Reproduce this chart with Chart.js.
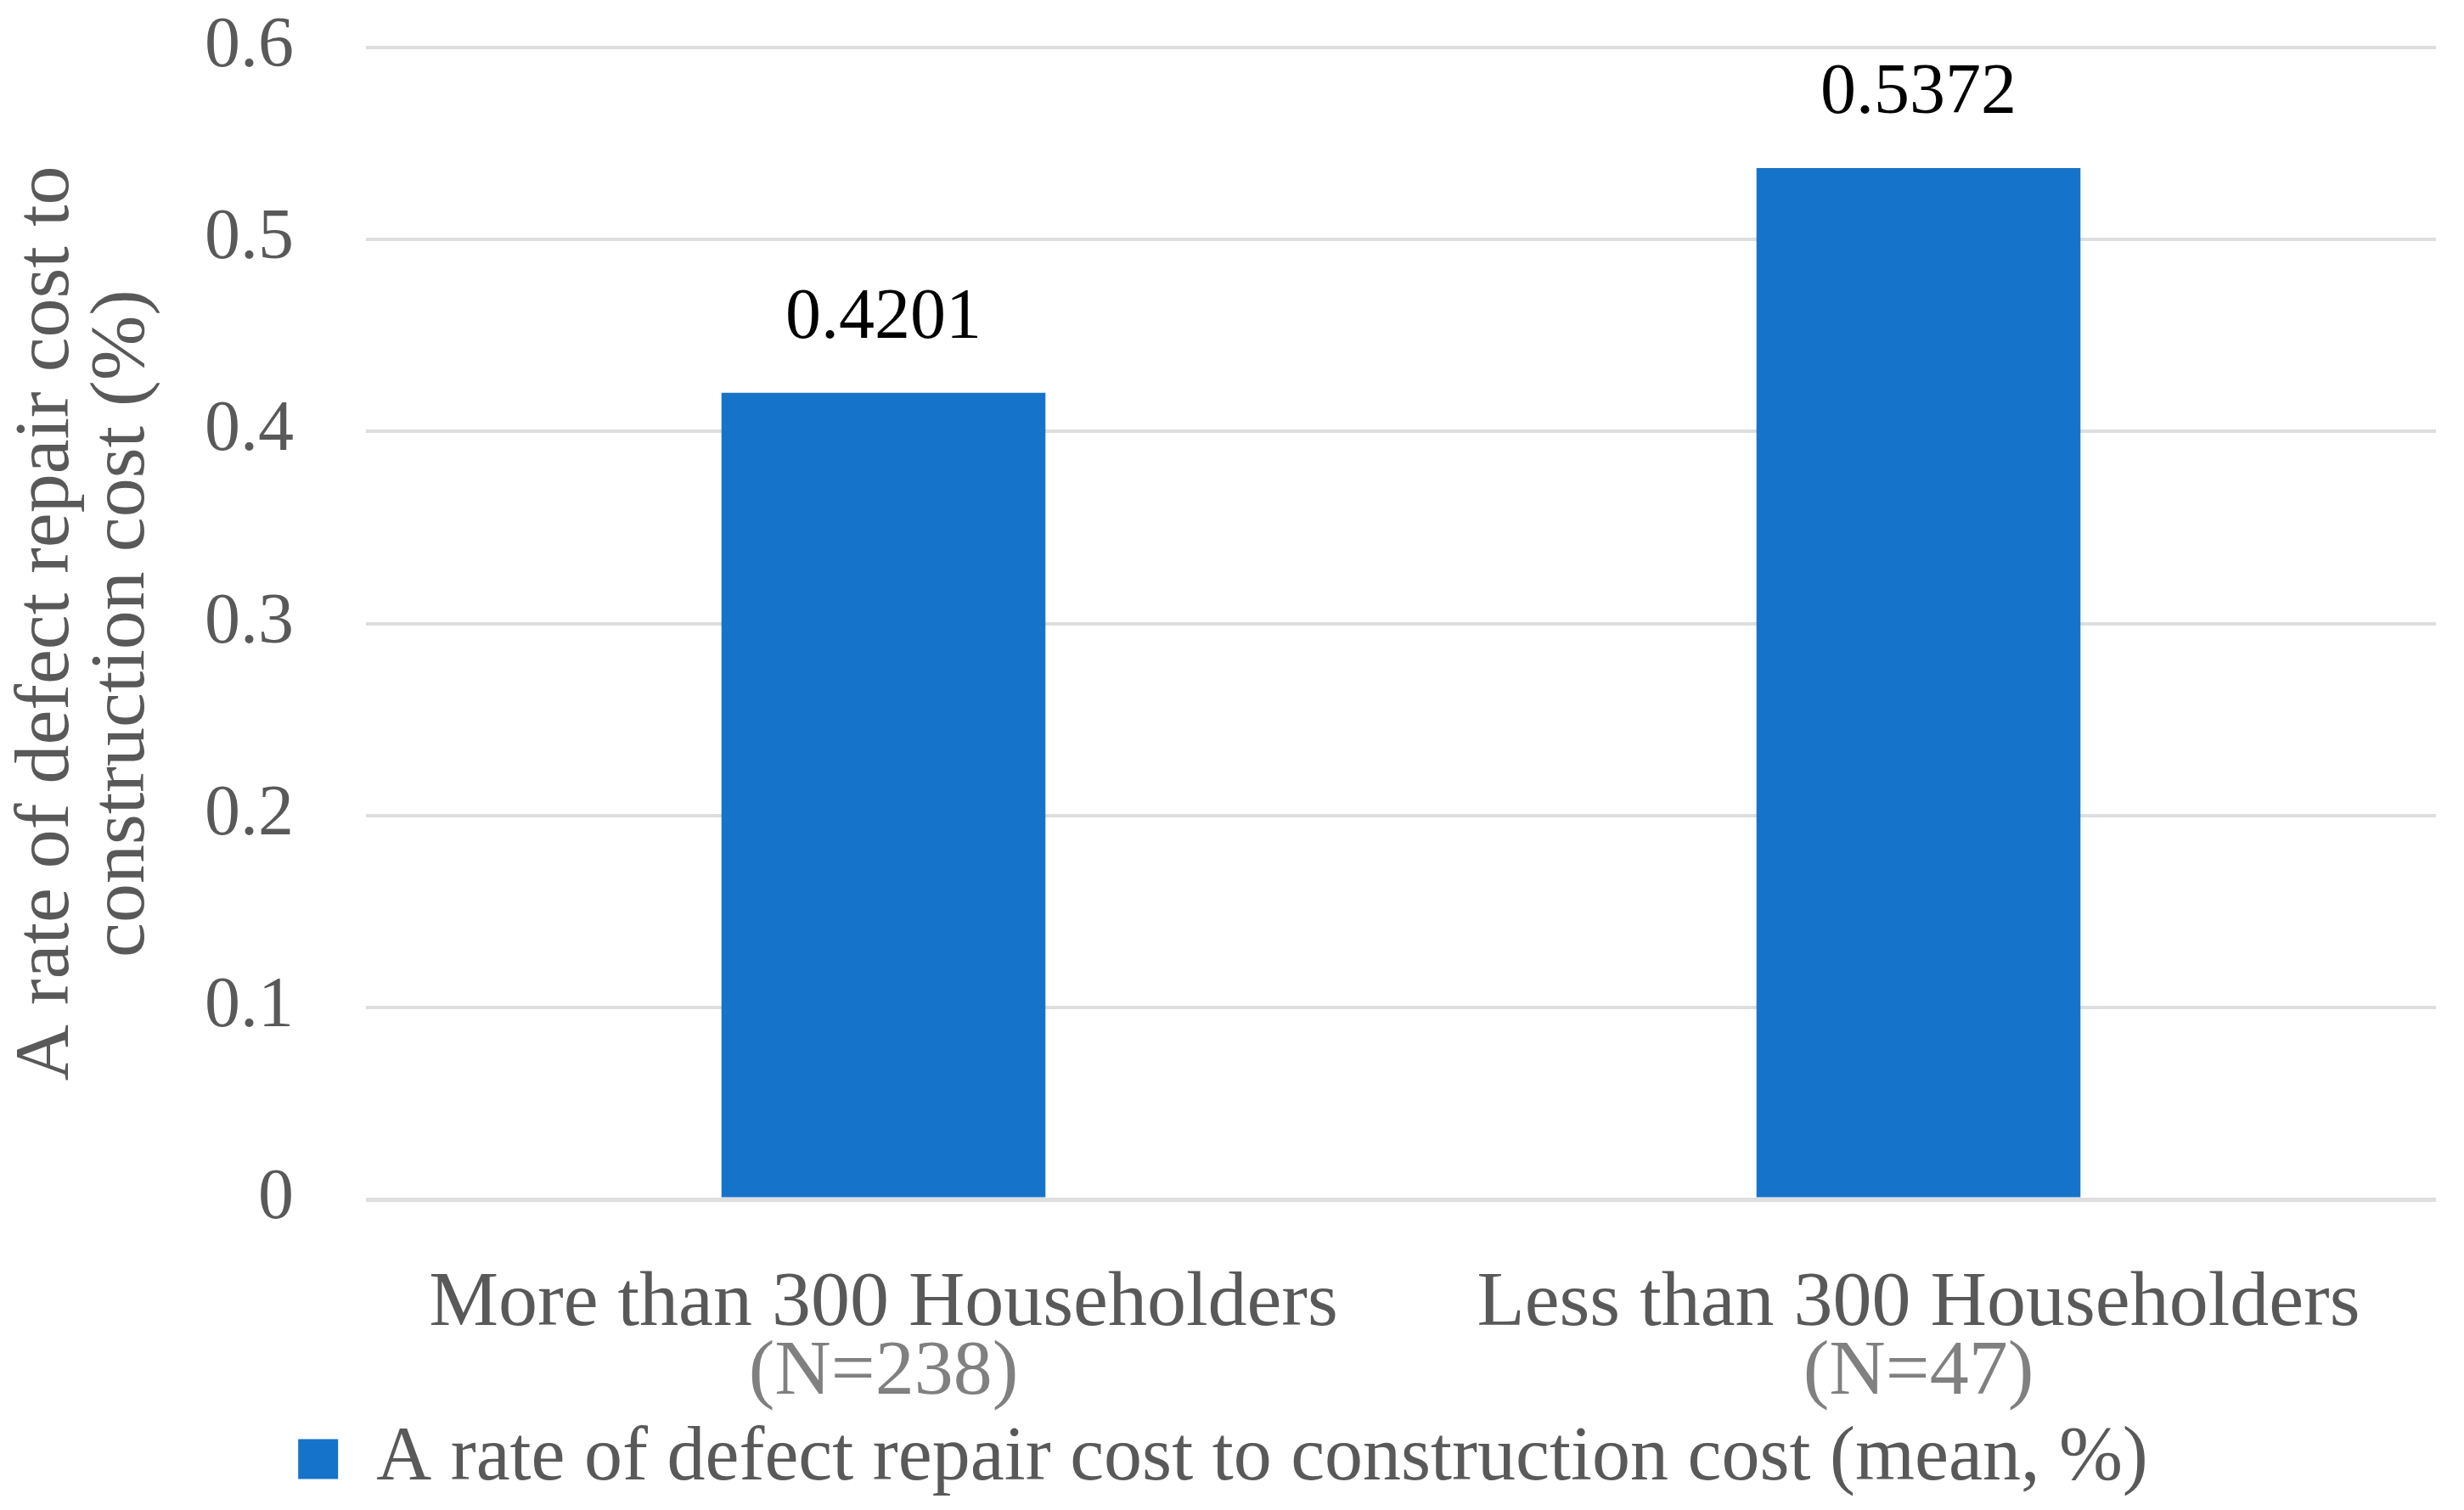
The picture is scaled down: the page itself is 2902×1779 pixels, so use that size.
<!DOCTYPE html>
<html>
<head>
<meta charset="utf-8">
<script src="https://cdn.jsdelivr.net/npm/chart.js@4.4.1/dist/chart.umd.min.js"></script>
<style>
    html, body { margin: 0; padding: 0; background: #fff; }
    #wrap { width: 2902px; height: 1779px; position: relative; }
</style>
</head>
<body>
<div id="wrap"><canvas id="chart"></canvas></div>
<script>
const categories = ['More than 300 Householders', 'Less than 300 Householders'];
const sampleSizes = ['(N=238)', '(N=47)'];
const meanRate = [0.4201, 0.5372];
const seriesName = 'A rate of defect repair cost to construction cost (mean, %)';
const yTitle = ['A rate of defect repair cost to', 'construction cost (%)'];

const FONT = 'Liberation Serif, Times New Roman, serif';
const GREY = '#595959';
const LIGHT_GREY = '#808080';
const BLUE = '#1673ca';

// value labels above the bars + the lighter "(N=..)" second line under each category
const extraText = {
    id: 'extraText',
    afterDatasetsDraw(chart) {
        const ctx = chart.ctx;
        ctx.save();
        ctx.textAlign = 'center';
        ctx.textBaseline = 'middle';
        ctx.fillStyle = '#000';
        ctx.font = '84px ' + FONT;
        chart.getDatasetMeta(0).data.forEach((bar, i) => {
            ctx.fillText(meanRate[i].toFixed(4), bar.x, bar.y - 87);
        });
        const xs = chart.scales.x;
        ctx.fillStyle = LIGHT_GREY;
        ctx.font = '92px ' + FONT;
        sampleSizes.forEach((s, i) => {
            ctx.fillText(s, xs.getPixelForTick(i), xs.top + 205);
        });
        ctx.restore();
    }
};

new Chart(document.getElementById('chart'), {
    type: 'bar',
    data: {
        labels: categories,
        datasets: [{
            label: seriesName,
            data: meanRate,
            backgroundColor: BLUE,
            borderWidth: 0,
            categoryPercentage: 1,
            barPercentage: 0.313,
        }]
    },
    options: {
        responsive: true,
        maintainAspectRatio: false,
        devicePixelRatio: 1,
        animation: false,
        layout: { padding: { left: 12, right: 33, top: 56, bottom: 5 } },
        plugins: {
            legend: {
                position: 'bottom',
                labels: {
                    color: GREY,
                    boxWidth: 47,
                    boxHeight: 47,
                    padding: 0,
                    font: { size: 90, family: FONT },
                },
            },
            tooltip: { enabled: false },
        },
        scales: {
            x: {
                grid: { display: false },
                border: { display: false },
                ticks: {
                    color: GREY,
                    padding: 74,
                    maxRotation: 0,
                    font: { size: 92, family: FONT, lineHeight: 0.92 },
                },
                afterFit(scale) {
                    scale.height = 261;
                    scale.paddingLeft = 0;
                    scale.paddingRight = 0;
                },
            },
            y: {
                min: 0,
                max: 0.6,
                ticks: {
                    stepSize: 0.1,
                    color: GREY,
                    padding: 85,
                    font: { size: 84, family: FONT },
                    callback: v => (Math.round(v * 10) / 10).toString(),
                },
                grid: {
                    color: '#dedede',
                    lineWidth: ctx => (ctx.tick && ctx.tick.value === 0 ? 5 : 4),
                    drawTicks: false,
                },
                border: { display: false },
                title: {
                    display: true,
                    text: yTitle,
                    color: GREY,
                    padding: 0,
                    font: { size: 92, family: FONT, lineHeight: 0.96 },
                },
                afterFit(scale) {
                    scale.width = 419;
                    scale.paddingTop = 0;
                    scale.paddingBottom = 0;
                },
            },
        },
    },
    plugins: [extraText],
});
</script>
</body>
</html>
